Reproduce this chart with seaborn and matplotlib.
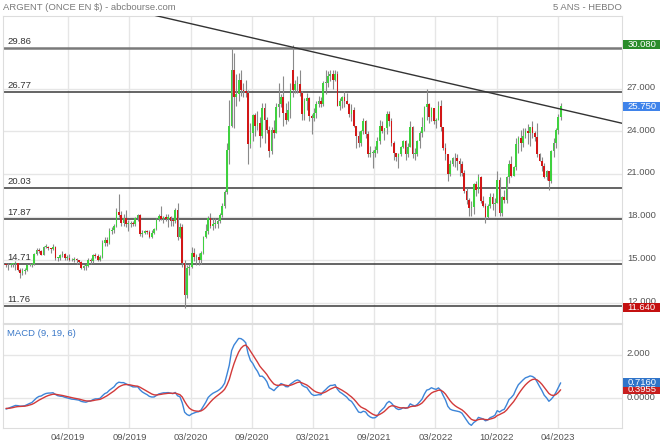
import numpy as np
import pandas as pd
import matplotlib
matplotlib.use("Agg")
import matplotlib.pyplot as plt
from matplotlib.patches import Rectangle
from matplotlib.transforms import ScaledTranslation
import seaborn as sns

# Argent, bougies hebdo (semaine du 01/10/2018 -> semaine du 10/04/2023)
opens = [
    14.70, 14.60, 14.60, 14.70, 14.70, 14.75, 14.30, 14.05, 14.20, 14.25, 14.60, 14.65, 14.70, 15.40,
    15.70, 15.60, 15.35, 15.90, 15.90, 15.80, 15.75, 15.90, 15.10, 15.10, 15.30, 15.40, 15.10, 15.10,
    15.00, 14.95, 15.05, 14.95, 14.85, 14.40, 14.55, 14.55, 15.00, 14.90, 15.30, 15.25, 15.00, 15.20,
    16.20, 16.40, 16.20, 17.00, 17.10, 17.40, 18.35, 18.15, 17.60, 17.90, 17.50, 17.50, 17.60, 17.50,
    17.95, 18.15, 16.80, 16.90, 17.00, 16.95, 16.60, 16.90, 17.15, 17.85,
    18.05, 17.85, 18.00, 17.85, 18.00, 17.75, 17.70, 18.50, 16.60, 17.30, 14.80, 12.50, 14.40, 14.50,
    15.50, 15.20, 15.20, 14.95, 15.50, 16.60, 17.00, 17.90, 17.40, 17.50, 17.50, 17.70, 18.15, 18.75,
    19.75, 22.70, 24.35, 28.30, 26.40, 26.60, 27.60, 26.90, 26.80, 26.70, 23.10, 23.90, 25.15, 24.40,
    24.60, 23.70, 25.60, 24.80, 24.10, 22.60, 24.10, 23.90, 25.70, 25.90,
    26.40, 25.30, 24.80, 25.50, 28.30, 26.90, 27.30, 27.30, 26.70, 25.20, 26.10, 26.30, 25.10, 24.90,
    25.30, 25.90, 26.10, 25.90, 27.40, 27.40, 27.90, 28.00, 27.60, 28.00, 25.80, 26.10, 26.40, 26.10,
    25.90, 25.20, 25.50, 24.40, 23.70, 23.20, 24.00, 24.70, 23.80, 22.40, 22.50, 22.50, 22.70, 23.30,
    24.40, 24.00, 24.20, 25.20, 24.70, 23.20, 22.50, 22.20, 22.40, 22.90,
    23.30, 22.40, 22.90, 24.30, 22.40, 22.40, 23.30, 23.90, 24.30, 25.70, 25.90, 25.00, 25.60, 24.70,
    24.80, 25.80, 24.30, 22.80, 22.40, 21.00, 21.70, 22.10, 22.10, 21.90, 21.70, 21.10, 19.80, 19.20,
    18.60, 18.70, 20.30, 19.90, 20.80, 19.10, 18.80, 18.00, 18.80, 19.40, 18.90, 19.00, 20.60, 18.30,
    19.40, 19.20, 20.80, 21.70, 20.90, 21.50, 23.10, 23.50, 23.20, 23.70,
    24.00, 23.90, 24.30, 23.90, 23.60, 22.40, 21.90, 21.60, 20.80, 21.20, 20.50, 22.60, 23.20, 24.10, 25.00,
]
highs = [
    14.80, 14.75, 14.80, 14.80, 14.90, 14.80, 14.40, 14.40, 14.40, 14.70, 14.80, 14.80, 15.50, 15.80,
    15.80, 15.70, 15.95, 16.10, 15.95, 15.85, 16.10, 16.00, 15.20, 15.40, 15.60, 15.45, 15.30, 15.40,
    15.10, 15.20, 15.10, 15.00, 14.90, 14.60, 14.70, 15.10, 15.10, 15.40, 15.50, 15.40, 15.30, 16.40,
    16.60, 16.60, 17.20, 17.30, 17.50, 18.60, 19.60, 18.40, 18.20, 18.50, 17.80, 17.70, 17.70, 18.00,
    18.20, 18.20, 17.10, 17.10, 17.10, 17.10, 17.10, 17.20, 17.90, 18.20,
    18.80, 18.10, 18.20, 18.20, 18.10, 17.80, 18.60, 18.95, 17.60, 17.50, 15.00, 14.60, 14.70, 15.90,
    15.80, 15.40, 15.50, 15.60, 16.70, 17.50, 18.10, 18.30, 17.90, 17.90, 17.90, 18.30, 19.00, 19.90,
    23.20, 26.20, 29.86, 29.50, 28.00, 28.10, 28.30, 27.40, 27.60, 26.90, 24.60, 25.20, 25.30, 25.40,
    25.00, 26.00, 26.00, 25.00, 24.40, 24.30, 24.80, 26.00, 27.40, 26.60,
    27.90, 26.00, 26.10, 27.40, 30.08, 27.60, 27.90, 28.30, 26.80, 26.30, 26.70, 26.40, 25.20, 25.60,
    26.10, 26.50, 26.40, 27.50, 28.30, 28.20, 28.30, 28.30, 28.30, 28.20, 26.30, 26.50, 26.80, 26.70,
    26.00, 25.90, 25.70, 24.40, 24.00, 24.10, 24.90, 24.80, 24.00, 23.00, 22.70, 23.00, 23.60, 24.80,
    24.70, 24.20, 25.40, 25.40, 24.90, 23.30, 22.50, 22.50, 23.00, 23.40,
    23.40, 23.20, 24.70, 24.40, 22.80, 23.40, 24.00, 25.00, 25.80, 26.94, 26.00, 25.70, 25.60, 24.90,
    26.10, 26.20, 24.30, 23.20, 22.40, 22.00, 22.20, 22.50, 22.40, 22.10, 21.90, 21.30, 20.00, 19.30,
    19.10, 20.40, 20.50, 21.00, 20.90, 19.50, 19.00, 18.90, 19.70, 19.70, 19.30, 21.20, 20.80, 19.50,
    19.90, 20.90, 22.00, 22.30, 21.60, 23.50, 23.70, 24.10, 24.20, 24.20,
    24.50, 24.30, 24.70, 24.00, 24.60, 22.50, 22.20, 21.80, 21.30, 21.20, 22.70, 23.50, 24.20, 25.20, 26.00,
]
lows = [
    14.50, 14.30, 14.50, 14.50, 14.25, 14.20, 13.75, 13.95, 14.00, 14.20, 14.55, 14.50, 14.65, 15.30,
    15.50, 15.30, 15.30, 15.80, 15.70, 15.50, 15.70, 15.00, 14.90, 15.00, 15.20, 15.00, 15.00, 14.90,
    14.90, 14.85, 14.70, 14.75, 14.35, 14.30, 14.30, 14.50, 14.70, 14.80, 15.10, 14.90, 14.90, 15.10,
    16.00, 16.00, 16.10, 16.80, 16.90, 17.30, 18.00, 17.40, 17.40, 17.30, 17.00, 17.30, 17.40, 17.40,
    17.70, 16.70, 16.60, 16.80, 16.80, 16.50, 16.50, 16.80, 17.10, 17.70,
    17.80, 17.60, 17.70, 17.30, 17.40, 17.40, 17.60, 16.40, 16.50, 14.50, 11.64, 12.30, 13.90, 14.40,
    14.90, 14.60, 14.60, 14.70, 15.40, 16.50, 16.80, 17.20, 17.10, 17.20, 17.20, 17.60, 18.00, 18.60,
    19.60, 21.70, 24.30, 24.20, 25.80, 26.10, 26.50, 26.40, 26.40, 21.70, 22.80, 23.30, 23.70, 24.10,
    22.90, 23.50, 23.20, 23.90, 22.20, 22.40, 23.50, 23.90, 25.00, 25.70,
    24.40, 24.50, 24.70, 24.90, 26.40, 26.70, 26.70, 26.50, 24.80, 24.80, 25.50, 24.70, 23.80, 24.70,
    24.90, 25.70, 25.70, 25.80, 26.60, 27.10, 27.50, 27.00, 27.50, 25.80, 25.50, 25.60, 25.70, 25.90,
    25.00, 24.70, 24.30, 22.80, 22.90, 23.00, 23.80, 23.50, 22.20, 22.20, 21.40, 22.20, 22.50, 23.10,
    23.90, 23.40, 23.80, 24.40, 23.00, 22.00, 21.90, 21.40, 22.30, 22.80,
    22.00, 22.20, 22.90, 22.10, 22.00, 22.30, 22.80, 23.60, 24.00, 24.80, 24.60, 24.70, 24.50, 24.20,
    24.80, 24.00, 22.70, 22.00, 20.50, 20.90, 21.60, 21.50, 21.30, 20.90, 20.90, 19.70, 18.90, 18.10,
    18.10, 18.20, 19.50, 19.70, 19.00, 18.70, 17.56, 17.90, 18.60, 18.50, 18.10, 19.00, 18.10, 18.10,
    19.00, 19.00, 20.40, 20.80, 20.90, 21.30, 22.50, 22.60, 22.90, 23.50,
    23.10, 23.00, 23.50, 23.30, 22.20, 21.90, 21.20, 20.70, 20.60, 19.90, 20.40, 22.20, 22.80, 23.80, 24.80,
]
closes = [
    14.60, 14.60, 14.70, 14.70, 14.75, 14.30, 14.05, 14.20, 14.25, 14.60, 14.65, 14.70, 15.40, 15.70,
    15.60, 15.35, 15.90, 15.90, 15.80, 15.75, 15.90, 15.10, 15.10, 15.30, 15.40, 15.10, 15.10, 15.00,
    14.95, 15.05, 14.95, 14.85, 14.40, 14.55, 14.55, 15.00, 14.90, 15.30, 15.25, 15.00, 15.20, 16.20,
    16.40, 16.20, 17.00, 17.10, 17.40, 18.35, 18.15, 17.60, 17.90, 17.50, 17.50, 17.60, 17.50, 17.95,
    18.15, 16.80, 16.90, 17.00, 16.95, 16.60, 16.90, 17.15, 17.85, 18.05,
    17.85, 18.00, 17.85, 18.00, 17.75, 17.70, 18.50, 16.60, 17.30, 14.80, 12.50, 14.40, 14.50, 15.50,
    15.20, 15.20, 14.95, 15.50, 16.60, 17.00, 17.90, 17.40, 17.50, 17.50, 17.70, 18.15, 18.75, 19.75,
    22.70, 24.35, 28.30, 26.40, 26.60, 27.60, 26.90, 26.80, 26.70, 23.10, 23.90, 25.15, 24.40, 24.60,
    23.70, 25.60, 24.80, 24.10, 22.60, 24.10, 23.90, 25.70, 25.90, 26.40,
    25.30, 24.80, 25.50, 26.90, 26.90, 27.30, 27.30, 26.70, 25.20, 26.10, 26.30, 25.10, 24.90, 25.30,
    25.90, 26.10, 25.90, 27.40, 27.40, 27.90, 28.00, 27.60, 28.00, 25.80, 26.10, 26.40, 26.10, 25.90,
    25.20, 25.50, 24.40, 23.70, 23.20, 24.00, 24.70, 23.80, 22.40, 22.50, 22.50, 22.70, 23.30, 24.40,
    24.00, 24.20, 25.20, 24.70, 23.20, 22.50, 22.20, 22.40, 22.90, 23.30,
    22.40, 22.90, 24.30, 22.40, 22.40, 23.30, 23.90, 24.30, 25.70, 25.90, 25.00, 25.60, 24.70, 24.80,
    25.80, 24.30, 22.80, 22.40, 21.00, 21.70, 22.10, 22.10, 21.90, 21.70, 21.10, 19.80, 19.20, 18.60,
    18.70, 20.30, 19.90, 20.80, 19.10, 18.80, 18.00, 18.80, 19.40, 18.90, 19.00, 20.60, 18.30, 19.40,
    19.20, 20.80, 21.70, 20.90, 21.50, 23.10, 23.50, 23.20, 23.70, 24.00,
    23.90, 24.30, 23.90, 23.60, 22.40, 21.90, 21.60, 20.80, 21.20, 20.50, 22.60, 23.20, 24.10, 25.00, 25.75,
]
# clotures avant la fenetre affichee (avr. -> sept. 2018), pour amorcer le MACD
warmup_closes = [16.30, 16.60, 17.20, 16.50, 16.50, 16.70, 16.50, 16.50, 16.40, 16.80, 16.60, 16.50,
                 16.10, 16.00, 15.80, 15.50, 15.50, 15.40, 15.30, 14.70, 14.80, 14.60, 14.20, 14.20, 14.30]

# niveaux horizontaux traces sur le graphique
levels = [29.86, 26.77, 20.03, 17.87, 14.71, 11.76]
# droite de tendance (index semaine, prix)
trend_x = [60.0, 262.5]
trend_y = [32.25, 24.55]

x_labels = ["04/2019", "09/2019", "03/2020", "09/2020", "03/2021",
            "09/2021", "03/2022", "10/2022", "04/2023"]
price_ticks = [12, 15, 18, 21, 24, 27]

sns.set_theme(style="white")
plt.rcParams['font.family'] = ['Liberation Sans', 'DejaVu Sans']
FS = 6.8

df = pd.DataFrame({'open': opens, 'high': highs, 'low': lows, 'close': closes})
df['idx'] = np.arange(len(df))

# MACD (9, 19, 6)
all_close = pd.Series(warmup_closes + closes)
ema_fast = all_close.ewm(span=9, adjust=False).mean()
ema_slow = all_close.ewm(span=19, adjust=False).mean()
macd = ema_fast - ema_slow
signal = macd.ewm(span=6, adjust=False).mean()
n_warm = len(warmup_closes)
df['macd'] = macd.values[n_warm:]
df['signal'] = signal.values[n_warm:]

fig = plt.figure(figsize=(6.6, 4.45), dpi=100)
ax = fig.add_axes([3 / 660, 1 - 323 / 445, 619 / 660, 307 / 445])
ax2 = fig.add_axes([3 / 660, 1 - 428.3 / 445, 619 / 660, 104.3 / 445])

grid_col = '#e6e6e6'
xlim = (-1.28, 262.1)
xticks = [26.5 + 26.04 * k for k in range(len(x_labels))]
lift = ScaledTranslation(0, 2.3 / 100, fig.dpi_scale_trans)

# --- panneau prix ---
ax.set_xlim(*xlim)
ax.set_ylim(10.57, 32.08)
ax.set_xticks(xticks)
ax.set_xticklabels([])
ax.set_yticks(price_ticks)
ax.yaxis.tick_right()
ax.set_yticklabels([f"{v:.3f}" for v in price_ticks], fontsize=FS, color='#555555')
ax.tick_params(length=0, pad=3.5)
for lab in ax.get_yticklabels():
    lab.set_transform(lab.get_transform() + lift)
ax.grid(True, color=grid_col, lw=1)
ax.set_axisbelow(True)
for s in ax.spines.values():
    s.set_color('#dddddd')
    s.set_linewidth(0.8)

for lvl in levels:
    col = '#7a7a7a' if lvl == levels[0] else '#3a3a3a'
    lw = 1.8 if lvl == levels[0] else 1.1
    ax.axhline(lvl, color=col, lw=lw, zorder=1.5)
    ax.annotate(f"{lvl:.2f}", xy=(0, lvl), xycoords=ax.get_yaxis_transform(),
                xytext=(3, 1.5), textcoords='offset points', va='bottom', ha='left',
                fontsize=FS, color='#333333')

ax.plot(trend_x, trend_y, color='#333333', lw=1, zorder=4)

up = df['close'] >= df['open']
body = np.maximum((df['close'] - df['open']).abs(), 0.06)
ax.vlines(df['idx'], df['low'], df['high'], color='#8a8a8a', lw=0.8, zorder=2)
ax.bar(df['idx'][up], body[up], bottom=df['open'][up], width=0.72,
       color='#3fd13f', edgecolor='none', zorder=3)
ax.bar(df['idx'][~up], body[~up], bottom=df['close'][~up], width=0.72,
       color='#d21717', edgecolor='none', zorder=3)


def value_box(axis, val, text, fc, px_per_unit):
    # etiquette coloree collee a droite du panneau
    h = 8.8 / px_per_unit
    axis.add_patch(Rectangle((1.0016, val - h / 2), 38 / 619, h,
                             transform=axis.get_yaxis_transform(), facecolor=fc,
                             edgecolor='none', clip_on=False, zorder=10))
    axis.text(1.009, val, text, transform=axis.get_yaxis_transform(), va='center',
              ha='left', fontsize=FS, color='white', clip_on=False, zorder=11)


ppu_price = 307 / (32.08 - 10.57)
value_box(ax, df['high'].max(), f"{df['high'].max():.3f}", '#2a8c2a', ppu_price)
value_box(ax, df['close'].iloc[-1], f"{df['close'].iloc[-1]:.3f}", '#3f83ea', ppu_price)
value_box(ax, df['low'].min(), f"{df['low'].min():.3f}", '#c41010', ppu_price)

# --- panneau MACD ---
ax2.set_xlim(*xlim)
ax2.set_ylim(-1.38, 3.43)
sns.lineplot(x=df['idx'], y=df['macd'], ax=ax2, color='#3d85d8', lw=1)
sns.lineplot(x=df['idx'], y=df['signal'], ax=ax2, color='#d23a3a', lw=1)
ax2.set_xlabel('')
ax2.set_ylabel('')
ax2.set_xticks(xticks)
ax2.set_xticklabels(x_labels, fontsize=FS, color='#555555')
ax2.set_yticks([0, 2])
ax2.yaxis.tick_right()
ax2.set_yticklabels(["0.0000", "2.000"], fontsize=FS, color='#555555')
ax2.tick_params(length=0, pad=3.5)
for lab in ax2.get_yticklabels():
    lab.set_transform(lab.get_transform() + lift)
ax2.grid(True, color=grid_col, lw=1)
ax2.set_axisbelow(True)
for s in ax2.spines.values():
    s.set_color('#dddddd')
    s.set_linewidth(0.8)
ax2.text(0.0065, 0.91, "MACD (9, 19, 6)", transform=ax2.transAxes, fontsize=FS,
         color='#3a78c8', va='center', ha='left')
ppu_macd = 104.3 / (3.43 + 1.38)
value_box(ax2, df['signal'].iloc[-1], f"{df['signal'].iloc[-1]:.4f}", '#c81e1e', ppu_macd)
value_box(ax2, df['macd'].iloc[-1], f"{df['macd'].iloc[-1]:.4f}", '#2f74c9', ppu_macd)

fig.text(3 / 660, 1 - 7 / 445, "ARGENT (ONCE EN \\$) - abcbourse.com", fontsize=FS,
         color='#7a7a7a', va='center', ha='left')
fig.text(622 / 660, 1 - 7 / 445, "5 ANS - HEBDO", fontsize=FS,
         color='#7a7a7a', va='center', ha='right')

fig.savefig("out.png", dpi=100, facecolor='white')
